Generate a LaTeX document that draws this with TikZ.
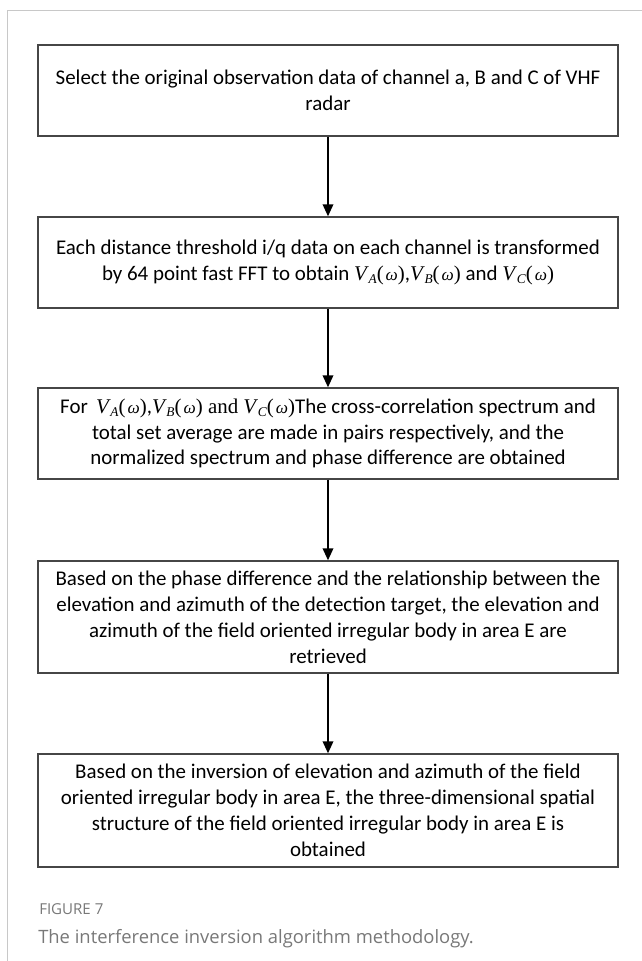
\documentclass[tikz,border=0pt]{standalone}
\usepackage{fontspec}
\setmainfont{Carlito}
\newfontfamily\tnr{Liberation Serif}
\newfontfamily\capfont{Open Sans}
\usetikzlibrary{arrows.meta}
\definecolor{framegray}{RGB}{200,200,200}
\definecolor{boxline}{RGB}{70,70,70}
\definecolor{capgray}{RGB}{120,120,120}
\newcommand\VW[1]{{\tnr\textit{V}\kern-0.3pt\raisebox{-0.35ex}{\fontsize{10}{10}\selectfont\textit{#1}}(\kern1.5pt{\fontsize{13}{13}\selectfont\textit{ω}})}}
\begin{document}
\begin{tikzpicture}[x=0.75pt,y=-0.75pt,
  stepbox/.style={draw=boxline,line width=1.1pt,minimum width=435pt,align=center,
    inner sep=0pt,font=\fontsize{15.7}{19.4}\selectfont},
  flow/.style={draw=black,line width=1.1pt,-{Triangle[width=8pt,length=9pt]}},
  framel/.style={draw=framegray,line width=0.8pt}]
\useasboundingbox (0,0) rectangle (642,961);
\draw[framel] (642,10.5) -- (7.5,10.5) -- (7.5,961);
\node[stepbox,minimum height=68.25pt] (b1) at (328,90.5)
 {Select the original observation data of channel a, B and C of VHF\\radar};
\node[stepbox,minimum height=68.25pt] (b2) at (328,262.5)
 {Each distance threshold i/q data on each channel is transformed\\by 64 point fast FFT to obtain \VW{A},\VW{B} and \VW{C}};
\node[stepbox,minimum height=68.25pt] (b3) at (328,433.5)
 {For \,\VW{A},\VW{B}{\tnr\ and }\VW{C}The cross-correlation spectrum and\\total set average are made in pairs respectively, and the\\normalized spectrum and phase difference are obtained};
\node[stepbox,minimum height=84pt] (b4) at (328,617)
 {Based on the phase difference and the relationship between the\\elevation and azimuth of the detection target, the elevation and\\azimuth of the field oriented irregular body in area E are\\retrieved};
\node[stepbox,minimum height=84.75pt] (b5) at (328,810.5)
 {Based on the inversion of elevation and azimuth of the field\\oriented irregular body in area E, the three-dimensional spatial\\structure of the field oriented irregular body in area E is\\obtained};
\draw[flow] (b1) -- (b2);
\draw[flow] (b2) -- (b3);
\draw[flow] (b3) -- (b4);
\draw[flow] (b4) -- (b5);
\node[anchor=base west,inner sep=0pt,text=capgray,font=\capfont\fontsize{11.3}{13}\selectfont] (fig) at (39,914) {FIGURE 7};
\node[anchor=base west,inner sep=0pt,text=capgray,font=\capfont\fontsize{13.8}{16}\selectfont] (cap) at (38,943) {The interference inversion algorithm methodology.};
\end{tikzpicture}
\end{document}
